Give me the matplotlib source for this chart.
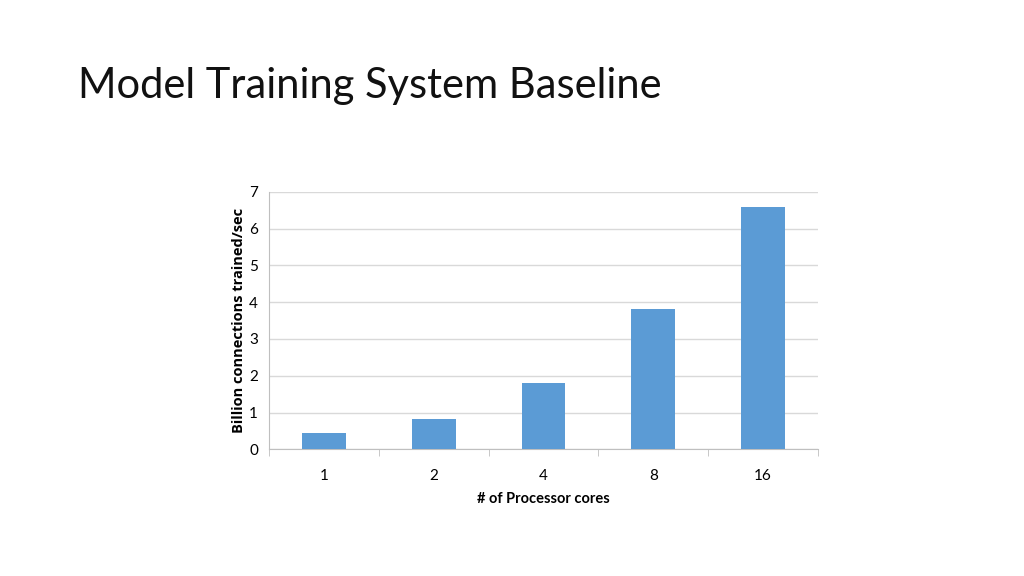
import matplotlib.pyplot as plt
import numpy as np

cores = ["1", "2", "4", "8", "16"]
throughput = [0.45, 0.83, 1.80, 3.82, 6.59]
y_ticks = [0, 1, 2, 3, 4, 5, 6, 7]

BAR = "#5b9bd5"
GRID = "#d9d9d9"
NARROW = ["Lato", "DejaVu Sans"]

fig = plt.figure(figsize=(10.24, 5.76), dpi=100)
fig.text(78 / 1024, 1 - 86 / 576, "Model Training System Baseline",
         fontsize=30, family="Lato", weight="normal", color="#111111",
         va="center", ha="left")

ax = fig.add_axes([269 / 1024, 1 - 449.3 / 576, 549 / 1024, 257.6 / 576])
x = np.arange(len(cores))
ax.bar(x, throughput, width=0.4, color=BAR, zorder=3)

ax.set_xlim(-0.5, len(cores) - 0.5)
ax.set_ylim(0, 7)
ax.set_yticks(y_ticks)
ax.set_yticklabels([str(v) for v in y_ticks], family=NARROW, fontsize=11)
ax.set_xticks(x)
ax.set_xticklabels(cores, family=NARROW, fontsize=11)
ax.set_xticks(np.arange(len(cores) + 1) - 0.5, minor=True)
ax.tick_params(axis="y", length=0, pad=8)
ax.tick_params(axis="x", which="major", length=0, pad=14)
ax.tick_params(axis="x", which="minor", length=5, color="#bfbfbf", direction="out")

ax.grid(axis="y", color=GRID, linewidth=1, zorder=0)
for side in ["top", "right"]:
    ax.spines[side].set_visible(False)
for side in ["left", "bottom"]:
    ax.spines[side].set_color("#bfbfbf")

ax.set_xlabel("# of Processor cores", family=NARROW, fontsize=10.5,
              weight="bold", labelpad=7)
ax.set_ylabel("Billion connections trained/sec", family=["Open Sans", "DejaVu Sans"],
              fontsize=10.5, weight="bold", labelpad=2)

fig.savefig("out.png", dpi=100)
